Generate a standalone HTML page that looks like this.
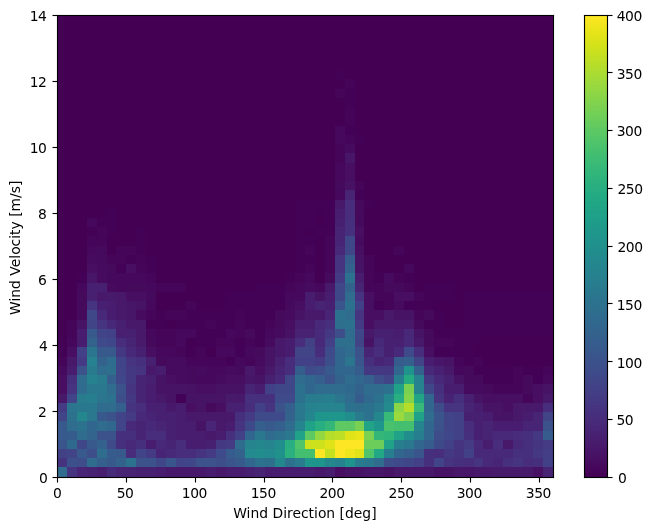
<!DOCTYPE html>
<html><head><meta charset="utf-8"><title>Wind Direction vs Wind Velocity</title>
<style>html,body{margin:0;padding:0;background:#fff}svg{display:block}text{font-family:"DejaVu Sans","Liberation Sans",sans-serif;font-size:13.889px;fill:#000}.t{filter:grayscale(1)}.k{letter-spacing:-0.45px}</style></head>
<body><svg width="653" height="530" viewBox="0 0 653 530">
<rect width="653" height="530" fill="#fff"/>
<g shape-rendering="crispEdges">
<rect x="57" y="467" width="10" height="10" fill="#2f6c8e"/>
<rect x="67" y="467" width="10" height="10" fill="#463480"/>
<rect x="77" y="467" width="10" height="10" fill="#482576"/>
<rect x="87" y="467" width="10" height="10" fill="#482374"/>
<rect x="97" y="467" width="10" height="10" fill="#481f70"/>
<rect x="107" y="467" width="9" height="10" fill="#472a7a"/>
<rect x="116" y="467" width="10" height="10" fill="#482475"/>
<rect x="126" y="467" width="10" height="10" fill="#482374"/>
<rect x="136" y="467" width="20" height="10" fill="#482071"/>
<rect x="156" y="467" width="10" height="10" fill="#481c6e"/>
<rect x="166" y="467" width="40" height="10" fill="#48186a"/>
<rect x="206" y="467" width="10" height="10" fill="#481c6e"/>
<rect x="216" y="467" width="10" height="10" fill="#48186a"/>
<rect x="226" y="467" width="19" height="10" fill="#481c6e"/>
<rect x="245" y="467" width="10" height="10" fill="#482071"/>
<rect x="255" y="467" width="10" height="10" fill="#482475"/>
<rect x="265" y="467" width="50" height="10" fill="#481c6e"/>
<rect x="315" y="467" width="10" height="10" fill="#48186a"/>
<rect x="325" y="467" width="10" height="10" fill="#481c6e"/>
<rect x="335" y="467" width="10" height="10" fill="#470e61"/>
<rect x="345" y="467" width="19" height="10" fill="#471365"/>
<rect x="364" y="467" width="20" height="10" fill="#481668"/>
<rect x="384" y="467" width="10" height="10" fill="#471365"/>
<rect x="394" y="467" width="40" height="10" fill="#48186a"/>
<rect x="434" y="467" width="20" height="10" fill="#471365"/>
<rect x="454" y="467" width="10" height="10" fill="#481769"/>
<rect x="464" y="467" width="10" height="10" fill="#481668"/>
<rect x="474" y="467" width="19" height="10" fill="#48186a"/>
<rect x="493" y="467" width="40" height="10" fill="#481a6c"/>
<rect x="533" y="467" width="10" height="10" fill="#471164"/>
<rect x="543" y="467" width="10" height="10" fill="#482475"/>
<rect x="57" y="458" width="10" height="9" fill="#46337f"/>
<rect x="67" y="458" width="10" height="9" fill="#3c508b"/>
<rect x="77" y="458" width="10" height="9" fill="#3d4e8a"/>
<rect x="87" y="458" width="10" height="9" fill="#2f6c8e"/>
<rect x="97" y="458" width="10" height="9" fill="#355f8d"/>
<rect x="107" y="458" width="9" height="9" fill="#38598c"/>
<rect x="116" y="458" width="10" height="9" fill="#33638d"/>
<rect x="126" y="458" width="10" height="9" fill="#2c728e"/>
<rect x="136" y="458" width="20" height="9" fill="#3b528b"/>
<rect x="156" y="458" width="10" height="9" fill="#3f4788"/>
<rect x="166" y="458" width="10" height="9" fill="#39558c"/>
<rect x="176" y="458" width="10" height="9" fill="#414487"/>
<rect x="186" y="458" width="10" height="9" fill="#3f4788"/>
<rect x="196" y="458" width="20" height="9" fill="#3b528b"/>
<rect x="216" y="458" width="10" height="9" fill="#3d4e8a"/>
<rect x="226" y="458" width="9" height="9" fill="#39558c"/>
<rect x="235" y="458" width="10" height="9" fill="#38598c"/>
<rect x="245" y="458" width="10" height="9" fill="#31668e"/>
<rect x="255" y="458" width="10" height="9" fill="#2c728e"/>
<rect x="265" y="458" width="10" height="9" fill="#2e6f8e"/>
<rect x="275" y="458" width="10" height="9" fill="#24878e"/>
<rect x="285" y="458" width="10" height="9" fill="#2c728e"/>
<rect x="295" y="458" width="10" height="9" fill="#297b8e"/>
<rect x="305" y="458" width="20" height="9" fill="#1f968b"/>
<rect x="325" y="458" width="10" height="9" fill="#24878e"/>
<rect x="335" y="458" width="10" height="9" fill="#26828e"/>
<rect x="345" y="458" width="10" height="9" fill="#20938c"/>
<rect x="355" y="458" width="9" height="9" fill="#297b8e"/>
<rect x="364" y="458" width="10" height="9" fill="#2a788e"/>
<rect x="374" y="458" width="10" height="9" fill="#2f6c8e"/>
<rect x="384" y="458" width="10" height="9" fill="#3d4e8a"/>
<rect x="394" y="458" width="10" height="9" fill="#3e4a89"/>
<rect x="404" y="458" width="10" height="9" fill="#3f4788"/>
<rect x="414" y="458" width="10" height="9" fill="#424086"/>
<rect x="424" y="458" width="10" height="9" fill="#46307e"/>
<rect x="434" y="458" width="10" height="9" fill="#414487"/>
<rect x="444" y="458" width="10" height="9" fill="#463480"/>
<rect x="454" y="458" width="10" height="9" fill="#46307e"/>
<rect x="464" y="458" width="10" height="9" fill="#472d7b"/>
<rect x="474" y="458" width="9" height="9" fill="#463480"/>
<rect x="483" y="458" width="10" height="9" fill="#482878"/>
<rect x="493" y="458" width="10" height="9" fill="#482475"/>
<rect x="503" y="458" width="10" height="9" fill="#46307e"/>
<rect x="513" y="458" width="10" height="9" fill="#463480"/>
<rect x="523" y="458" width="10" height="9" fill="#472d7b"/>
<rect x="533" y="458" width="10" height="9" fill="#46307e"/>
<rect x="543" y="458" width="10" height="9" fill="#424086"/>
<rect x="57" y="449" width="10" height="9" fill="#424186"/>
<rect x="67" y="449" width="10" height="9" fill="#414487"/>
<rect x="77" y="449" width="10" height="9" fill="#38598c"/>
<rect x="87" y="449" width="10" height="9" fill="#3d4e8a"/>
<rect x="97" y="449" width="10" height="9" fill="#2e6d8e"/>
<rect x="107" y="449" width="9" height="9" fill="#365c8d"/>
<rect x="116" y="449" width="10" height="9" fill="#38598c"/>
<rect x="126" y="449" width="10" height="9" fill="#472d7b"/>
<rect x="136" y="449" width="10" height="9" fill="#414487"/>
<rect x="146" y="449" width="10" height="9" fill="#443b84"/>
<rect x="156" y="449" width="10" height="9" fill="#482475"/>
<rect x="166" y="449" width="10" height="9" fill="#482878"/>
<rect x="176" y="449" width="20" height="9" fill="#472d7b"/>
<rect x="196" y="449" width="10" height="9" fill="#463480"/>
<rect x="206" y="449" width="10" height="9" fill="#443b84"/>
<rect x="216" y="449" width="10" height="9" fill="#3e4a89"/>
<rect x="226" y="449" width="9" height="9" fill="#365c8d"/>
<rect x="235" y="449" width="10" height="9" fill="#33638d"/>
<rect x="245" y="449" width="10" height="9" fill="#238a8d"/>
<rect x="255" y="449" width="10" height="9" fill="#228d8d"/>
<rect x="265" y="449" width="10" height="9" fill="#238a8d"/>
<rect x="275" y="449" width="10" height="9" fill="#21918c"/>
<rect x="285" y="449" width="10" height="9" fill="#2cb17e"/>
<rect x="295" y="449" width="20" height="9" fill="#44bf70"/>
<rect x="315" y="449" width="10" height="9" fill="#fde725"/>
<rect x="325" y="449" width="10" height="9" fill="#c5e021"/>
<rect x="335" y="449" width="10" height="9" fill="#fde725"/>
<rect x="345" y="449" width="10" height="9" fill="#efe51c"/>
<rect x="355" y="449" width="9" height="9" fill="#dfe318"/>
<rect x="364" y="449" width="10" height="9" fill="#50c46a"/>
<rect x="374" y="449" width="10" height="9" fill="#22a884"/>
<rect x="384" y="449" width="10" height="9" fill="#277e8e"/>
<rect x="394" y="449" width="10" height="9" fill="#31668e"/>
<rect x="404" y="449" width="10" height="9" fill="#355f8d"/>
<rect x="414" y="449" width="10" height="9" fill="#39558c"/>
<rect x="424" y="449" width="10" height="9" fill="#46307e"/>
<rect x="434" y="449" width="10" height="9" fill="#472d7b"/>
<rect x="444" y="449" width="10" height="9" fill="#453882"/>
<rect x="454" y="449" width="10" height="9" fill="#46337f"/>
<rect x="464" y="449" width="10" height="9" fill="#424086"/>
<rect x="474" y="449" width="39" height="9" fill="#482878"/>
<rect x="513" y="449" width="20" height="9" fill="#46307e"/>
<rect x="533" y="449" width="10" height="9" fill="#453882"/>
<rect x="543" y="449" width="10" height="9" fill="#433e85"/>
<rect x="57" y="440" width="10" height="9" fill="#39558c"/>
<rect x="67" y="440" width="10" height="9" fill="#30698e"/>
<rect x="77" y="440" width="10" height="9" fill="#3f4788"/>
<rect x="87" y="440" width="10" height="9" fill="#38598c"/>
<rect x="97" y="440" width="10" height="9" fill="#34618d"/>
<rect x="107" y="440" width="9" height="9" fill="#3e4a89"/>
<rect x="116" y="440" width="10" height="9" fill="#46307e"/>
<rect x="126" y="440" width="10" height="9" fill="#482878"/>
<rect x="136" y="440" width="10" height="9" fill="#46307e"/>
<rect x="146" y="440" width="10" height="9" fill="#481c6e"/>
<rect x="156" y="440" width="10" height="9" fill="#482878"/>
<rect x="166" y="440" width="10" height="9" fill="#482475"/>
<rect x="176" y="440" width="10" height="9" fill="#472d7b"/>
<rect x="186" y="440" width="20" height="9" fill="#481c6e"/>
<rect x="206" y="440" width="10" height="9" fill="#482071"/>
<rect x="216" y="440" width="10" height="9" fill="#453882"/>
<rect x="226" y="440" width="9" height="9" fill="#443b84"/>
<rect x="235" y="440" width="10" height="9" fill="#2f6c8e"/>
<rect x="245" y="440" width="10" height="9" fill="#25848e"/>
<rect x="255" y="440" width="10" height="9" fill="#24878e"/>
<rect x="265" y="440" width="10" height="9" fill="#25848e"/>
<rect x="275" y="440" width="10" height="9" fill="#228d8d"/>
<rect x="285" y="440" width="10" height="9" fill="#28ae80"/>
<rect x="295" y="440" width="10" height="9" fill="#50c46a"/>
<rect x="305" y="440" width="20" height="9" fill="#cde11d"/>
<rect x="325" y="440" width="10" height="9" fill="#dfe318"/>
<rect x="335" y="440" width="29" height="9" fill="#fde725"/>
<rect x="364" y="440" width="20" height="9" fill="#6ccd5a"/>
<rect x="384" y="440" width="10" height="9" fill="#1fa287"/>
<rect x="394" y="440" width="10" height="9" fill="#277e8e"/>
<rect x="404" y="440" width="10" height="9" fill="#2a788e"/>
<rect x="414" y="440" width="10" height="9" fill="#31668e"/>
<rect x="424" y="440" width="10" height="9" fill="#365c8d"/>
<rect x="434" y="440" width="10" height="9" fill="#3e4989"/>
<rect x="444" y="440" width="10" height="9" fill="#424086"/>
<rect x="454" y="440" width="10" height="9" fill="#463480"/>
<rect x="464" y="440" width="10" height="9" fill="#443b84"/>
<rect x="474" y="440" width="9" height="9" fill="#482878"/>
<rect x="483" y="440" width="10" height="9" fill="#481c6e"/>
<rect x="493" y="440" width="10" height="9" fill="#472d7b"/>
<rect x="503" y="440" width="10" height="9" fill="#48186a"/>
<rect x="513" y="440" width="10" height="9" fill="#482878"/>
<rect x="523" y="440" width="10" height="9" fill="#46307e"/>
<rect x="533" y="440" width="10" height="9" fill="#453581"/>
<rect x="543" y="440" width="10" height="9" fill="#443b84"/>
<rect x="57" y="431" width="10" height="9" fill="#38598c"/>
<rect x="67" y="431" width="10" height="9" fill="#365c8d"/>
<rect x="77" y="431" width="10" height="9" fill="#2f6c8e"/>
<rect x="87" y="431" width="10" height="9" fill="#32648e"/>
<rect x="97" y="431" width="19" height="9" fill="#3b528b"/>
<rect x="116" y="431" width="20" height="9" fill="#46307e"/>
<rect x="136" y="431" width="10" height="9" fill="#482475"/>
<rect x="146" y="431" width="20" height="9" fill="#472d7b"/>
<rect x="166" y="431" width="10" height="9" fill="#482071"/>
<rect x="176" y="431" width="20" height="9" fill="#481c6e"/>
<rect x="196" y="431" width="10" height="9" fill="#481d6f"/>
<rect x="206" y="431" width="10" height="9" fill="#48186a"/>
<rect x="216" y="431" width="10" height="9" fill="#481c6e"/>
<rect x="226" y="431" width="9" height="9" fill="#46307e"/>
<rect x="235" y="431" width="10" height="9" fill="#424086"/>
<rect x="245" y="431" width="10" height="9" fill="#31668e"/>
<rect x="255" y="431" width="10" height="9" fill="#2a788e"/>
<rect x="265" y="431" width="10" height="9" fill="#2f6c8e"/>
<rect x="275" y="431" width="10" height="9" fill="#2c728e"/>
<rect x="285" y="431" width="10" height="9" fill="#2a788e"/>
<rect x="295" y="431" width="10" height="9" fill="#1fa287"/>
<rect x="305" y="431" width="10" height="9" fill="#5ec962"/>
<rect x="315" y="431" width="10" height="9" fill="#93d741"/>
<rect x="325" y="431" width="10" height="9" fill="#b5de2b"/>
<rect x="335" y="431" width="10" height="9" fill="#bddf26"/>
<rect x="345" y="431" width="10" height="9" fill="#dfe318"/>
<rect x="355" y="431" width="9" height="9" fill="#e7e419"/>
<rect x="364" y="431" width="10" height="9" fill="#7ad151"/>
<rect x="374" y="431" width="10" height="9" fill="#34b679"/>
<rect x="384" y="431" width="10" height="9" fill="#2fb47c"/>
<rect x="394" y="431" width="10" height="9" fill="#1fa287"/>
<rect x="404" y="431" width="10" height="9" fill="#228d8d"/>
<rect x="414" y="431" width="10" height="9" fill="#277e8e"/>
<rect x="424" y="431" width="10" height="9" fill="#31668e"/>
<rect x="434" y="431" width="10" height="9" fill="#3e4c8a"/>
<rect x="444" y="431" width="10" height="9" fill="#3f4788"/>
<rect x="454" y="431" width="10" height="9" fill="#424086"/>
<rect x="464" y="431" width="10" height="9" fill="#46307e"/>
<rect x="474" y="431" width="9" height="9" fill="#482071"/>
<rect x="483" y="431" width="10" height="9" fill="#482475"/>
<rect x="493" y="431" width="20" height="9" fill="#482878"/>
<rect x="513" y="431" width="10" height="9" fill="#472d7b"/>
<rect x="523" y="431" width="10" height="9" fill="#46307e"/>
<rect x="533" y="431" width="10" height="9" fill="#453882"/>
<rect x="543" y="431" width="10" height="9" fill="#365c8d"/>
<rect x="57" y="421" width="10" height="10" fill="#38598c"/>
<rect x="67" y="421" width="10" height="10" fill="#2f6c8e"/>
<rect x="77" y="421" width="10" height="10" fill="#2c728e"/>
<rect x="87" y="421" width="10" height="10" fill="#31668e"/>
<rect x="97" y="421" width="10" height="10" fill="#2f6c8e"/>
<rect x="107" y="421" width="9" height="10" fill="#31668e"/>
<rect x="116" y="421" width="10" height="10" fill="#414487"/>
<rect x="126" y="421" width="10" height="10" fill="#482878"/>
<rect x="136" y="421" width="10" height="10" fill="#482475"/>
<rect x="146" y="421" width="10" height="10" fill="#482878"/>
<rect x="156" y="421" width="10" height="10" fill="#482475"/>
<rect x="166" y="421" width="10" height="10" fill="#482071"/>
<rect x="176" y="421" width="20" height="10" fill="#481c6e"/>
<rect x="196" y="421" width="10" height="10" fill="#471365"/>
<rect x="206" y="421" width="10" height="10" fill="#482576"/>
<rect x="216" y="421" width="10" height="10" fill="#48186a"/>
<rect x="226" y="421" width="9" height="10" fill="#481d6f"/>
<rect x="235" y="421" width="10" height="10" fill="#463480"/>
<rect x="245" y="421" width="10" height="10" fill="#3e4989"/>
<rect x="255" y="421" width="10" height="10" fill="#355f8d"/>
<rect x="265" y="421" width="10" height="10" fill="#38598c"/>
<rect x="275" y="421" width="10" height="10" fill="#355f8d"/>
<rect x="285" y="421" width="10" height="10" fill="#2f6c8e"/>
<rect x="295" y="421" width="10" height="10" fill="#25848e"/>
<rect x="305" y="421" width="10" height="10" fill="#1fa287"/>
<rect x="315" y="421" width="10" height="10" fill="#28ae80"/>
<rect x="325" y="421" width="10" height="10" fill="#34b679"/>
<rect x="335" y="421" width="20" height="10" fill="#5ec962"/>
<rect x="355" y="421" width="9" height="10" fill="#7ad151"/>
<rect x="364" y="421" width="10" height="10" fill="#20a386"/>
<rect x="374" y="421" width="10" height="10" fill="#1f968b"/>
<rect x="384" y="421" width="10" height="10" fill="#4ac16d"/>
<rect x="394" y="421" width="20" height="10" fill="#44bf70"/>
<rect x="414" y="421" width="10" height="10" fill="#25848e"/>
<rect x="424" y="421" width="10" height="10" fill="#31668e"/>
<rect x="434" y="421" width="10" height="10" fill="#3b528b"/>
<rect x="444" y="421" width="10" height="10" fill="#414487"/>
<rect x="454" y="421" width="10" height="10" fill="#424086"/>
<rect x="464" y="421" width="10" height="10" fill="#472d7b"/>
<rect x="474" y="421" width="9" height="10" fill="#482071"/>
<rect x="483" y="421" width="10" height="10" fill="#482475"/>
<rect x="493" y="421" width="30" height="10" fill="#481c6e"/>
<rect x="523" y="421" width="20" height="10" fill="#482475"/>
<rect x="543" y="421" width="10" height="10" fill="#3b528b"/>
<rect x="57" y="412" width="10" height="9" fill="#414487"/>
<rect x="67" y="412" width="10" height="9" fill="#2c728e"/>
<rect x="77" y="412" width="10" height="9" fill="#24878e"/>
<rect x="87" y="412" width="10" height="9" fill="#2a788e"/>
<rect x="97" y="412" width="10" height="9" fill="#38598c"/>
<rect x="107" y="412" width="9" height="9" fill="#3b528b"/>
<rect x="116" y="412" width="10" height="9" fill="#414487"/>
<rect x="126" y="412" width="10" height="9" fill="#443b84"/>
<rect x="136" y="412" width="10" height="9" fill="#482878"/>
<rect x="146" y="412" width="10" height="9" fill="#482475"/>
<rect x="156" y="412" width="20" height="9" fill="#482071"/>
<rect x="176" y="412" width="10" height="9" fill="#481c6e"/>
<rect x="186" y="412" width="49" height="9" fill="#48186a"/>
<rect x="235" y="412" width="10" height="9" fill="#46307e"/>
<rect x="245" y="412" width="10" height="9" fill="#443b84"/>
<rect x="255" y="412" width="30" height="9" fill="#3e4a89"/>
<rect x="285" y="412" width="10" height="9" fill="#33638d"/>
<rect x="295" y="412" width="10" height="9" fill="#2a788e"/>
<rect x="305" y="412" width="10" height="9" fill="#24878e"/>
<rect x="315" y="412" width="30" height="9" fill="#1f968b"/>
<rect x="345" y="412" width="10" height="9" fill="#228d8d"/>
<rect x="355" y="412" width="9" height="9" fill="#297b8e"/>
<rect x="364" y="412" width="10" height="9" fill="#2c728e"/>
<rect x="374" y="412" width="10" height="9" fill="#24878e"/>
<rect x="384" y="412" width="10" height="9" fill="#38b977"/>
<rect x="394" y="412" width="10" height="9" fill="#9bd93c"/>
<rect x="404" y="412" width="10" height="9" fill="#7ad151"/>
<rect x="414" y="412" width="10" height="9" fill="#1fa287"/>
<rect x="424" y="412" width="10" height="9" fill="#2f6c8e"/>
<rect x="434" y="412" width="10" height="9" fill="#39558c"/>
<rect x="444" y="412" width="10" height="9" fill="#414487"/>
<rect x="454" y="412" width="10" height="9" fill="#424086"/>
<rect x="464" y="412" width="19" height="9" fill="#482071"/>
<rect x="483" y="412" width="10" height="9" fill="#481c6e"/>
<rect x="493" y="412" width="20" height="9" fill="#471365"/>
<rect x="513" y="412" width="10" height="9" fill="#48186a"/>
<rect x="523" y="412" width="10" height="9" fill="#481c6e"/>
<rect x="533" y="412" width="10" height="9" fill="#482475"/>
<rect x="543" y="412" width="10" height="9" fill="#414487"/>
<rect x="57" y="403" width="10" height="9" fill="#443b84"/>
<rect x="67" y="403" width="10" height="9" fill="#2b758e"/>
<rect x="77" y="403" width="20" height="9" fill="#2a788e"/>
<rect x="97" y="403" width="19" height="9" fill="#2f6c8e"/>
<rect x="116" y="403" width="10" height="9" fill="#355f8d"/>
<rect x="126" y="403" width="10" height="9" fill="#463480"/>
<rect x="136" y="403" width="10" height="9" fill="#472d7b"/>
<rect x="146" y="403" width="20" height="9" fill="#482071"/>
<rect x="166" y="403" width="10" height="9" fill="#48186a"/>
<rect x="176" y="403" width="10" height="9" fill="#481c6e"/>
<rect x="186" y="403" width="10" height="9" fill="#470e61"/>
<rect x="196" y="403" width="10" height="9" fill="#471365"/>
<rect x="206" y="403" width="10" height="9" fill="#460a5d"/>
<rect x="216" y="403" width="10" height="9" fill="#470e61"/>
<rect x="226" y="403" width="19" height="9" fill="#482071"/>
<rect x="245" y="403" width="10" height="9" fill="#472d7b"/>
<rect x="255" y="403" width="10" height="9" fill="#424086"/>
<rect x="265" y="403" width="10" height="9" fill="#463480"/>
<rect x="275" y="403" width="10" height="9" fill="#3b528b"/>
<rect x="285" y="403" width="10" height="9" fill="#355f8d"/>
<rect x="295" y="403" width="10" height="9" fill="#2a788e"/>
<rect x="305" y="403" width="10" height="9" fill="#26828e"/>
<rect x="315" y="403" width="30" height="9" fill="#25848e"/>
<rect x="345" y="403" width="10" height="9" fill="#2c728e"/>
<rect x="355" y="403" width="9" height="9" fill="#2e6f8e"/>
<rect x="364" y="403" width="10" height="9" fill="#2c728e"/>
<rect x="374" y="403" width="10" height="9" fill="#2a788e"/>
<rect x="384" y="403" width="10" height="9" fill="#238a8d"/>
<rect x="394" y="403" width="10" height="9" fill="#8bd646"/>
<rect x="404" y="403" width="10" height="9" fill="#b5de2b"/>
<rect x="414" y="403" width="10" height="9" fill="#38b977"/>
<rect x="424" y="403" width="10" height="9" fill="#31668e"/>
<rect x="434" y="403" width="10" height="9" fill="#3e4c8a"/>
<rect x="444" y="403" width="20" height="9" fill="#463480"/>
<rect x="464" y="403" width="10" height="9" fill="#482475"/>
<rect x="474" y="403" width="9" height="9" fill="#481c6e"/>
<rect x="483" y="403" width="20" height="9" fill="#471365"/>
<rect x="503" y="403" width="10" height="9" fill="#470e61"/>
<rect x="513" y="403" width="30" height="9" fill="#48186a"/>
<rect x="543" y="403" width="10" height="9" fill="#472d7b"/>
<rect x="57" y="394" width="10" height="9" fill="#48186a"/>
<rect x="67" y="394" width="10" height="9" fill="#414487"/>
<rect x="77" y="394" width="10" height="9" fill="#297b8e"/>
<rect x="87" y="394" width="10" height="9" fill="#277e8e"/>
<rect x="97" y="394" width="10" height="9" fill="#2b758e"/>
<rect x="107" y="394" width="9" height="9" fill="#2c728e"/>
<rect x="116" y="394" width="10" height="9" fill="#3d4e8a"/>
<rect x="126" y="394" width="10" height="9" fill="#453882"/>
<rect x="136" y="394" width="10" height="9" fill="#482475"/>
<rect x="146" y="394" width="10" height="9" fill="#481c6e"/>
<rect x="156" y="394" width="10" height="9" fill="#48186a"/>
<rect x="166" y="394" width="10" height="9" fill="#471365"/>
<rect x="176" y="394" width="10" height="9" fill="#440256"/>
<rect x="186" y="394" width="40" height="9" fill="#471365"/>
<rect x="226" y="394" width="9" height="9" fill="#481a6c"/>
<rect x="235" y="394" width="10" height="9" fill="#48186a"/>
<rect x="245" y="394" width="30" height="9" fill="#46307e"/>
<rect x="275" y="394" width="20" height="9" fill="#3e4a89"/>
<rect x="295" y="394" width="10" height="9" fill="#2c728e"/>
<rect x="305" y="394" width="20" height="9" fill="#297b8e"/>
<rect x="325" y="394" width="10" height="9" fill="#277e8e"/>
<rect x="335" y="394" width="10" height="9" fill="#2b758e"/>
<rect x="345" y="394" width="10" height="9" fill="#2f6c8e"/>
<rect x="355" y="394" width="9" height="9" fill="#365c8d"/>
<rect x="364" y="394" width="10" height="9" fill="#30698e"/>
<rect x="374" y="394" width="10" height="9" fill="#2c728e"/>
<rect x="384" y="394" width="10" height="9" fill="#24878e"/>
<rect x="394" y="394" width="10" height="9" fill="#28ae80"/>
<rect x="404" y="394" width="10" height="9" fill="#84d44b"/>
<rect x="414" y="394" width="10" height="9" fill="#21a585"/>
<rect x="424" y="394" width="10" height="9" fill="#31668e"/>
<rect x="434" y="394" width="10" height="9" fill="#463480"/>
<rect x="444" y="394" width="10" height="9" fill="#482374"/>
<rect x="454" y="394" width="10" height="9" fill="#46307e"/>
<rect x="464" y="394" width="10" height="9" fill="#482071"/>
<rect x="474" y="394" width="9" height="9" fill="#471365"/>
<rect x="483" y="394" width="40" height="9" fill="#470e61"/>
<rect x="523" y="394" width="10" height="9" fill="#450559"/>
<rect x="533" y="394" width="10" height="9" fill="#470e61"/>
<rect x="543" y="394" width="10" height="9" fill="#48186a"/>
<rect x="57" y="384" width="10" height="10" fill="#470e61"/>
<rect x="67" y="384" width="10" height="10" fill="#463480"/>
<rect x="77" y="384" width="10" height="10" fill="#2f6c8e"/>
<rect x="87" y="384" width="20" height="10" fill="#2a788e"/>
<rect x="107" y="384" width="9" height="10" fill="#2f6c8e"/>
<rect x="116" y="384" width="10" height="10" fill="#3b528b"/>
<rect x="126" y="384" width="10" height="10" fill="#463480"/>
<rect x="136" y="384" width="10" height="10" fill="#482475"/>
<rect x="146" y="384" width="10" height="10" fill="#481c6e"/>
<rect x="156" y="384" width="30" height="10" fill="#471365"/>
<rect x="186" y="384" width="10" height="10" fill="#471164"/>
<rect x="196" y="384" width="20" height="10" fill="#470e61"/>
<rect x="216" y="384" width="29" height="10" fill="#471164"/>
<rect x="245" y="384" width="10" height="10" fill="#482475"/>
<rect x="255" y="384" width="10" height="10" fill="#481c6e"/>
<rect x="265" y="384" width="10" height="10" fill="#424086"/>
<rect x="275" y="384" width="20" height="10" fill="#3f4788"/>
<rect x="295" y="384" width="10" height="10" fill="#2c728e"/>
<rect x="305" y="384" width="10" height="10" fill="#31668e"/>
<rect x="315" y="384" width="30" height="10" fill="#2f6c8e"/>
<rect x="345" y="384" width="10" height="10" fill="#30698e"/>
<rect x="355" y="384" width="9" height="10" fill="#33638d"/>
<rect x="364" y="384" width="20" height="10" fill="#2f6c8e"/>
<rect x="384" y="384" width="10" height="10" fill="#2c728e"/>
<rect x="394" y="384" width="10" height="10" fill="#1fa287"/>
<rect x="404" y="384" width="10" height="10" fill="#7ad151"/>
<rect x="414" y="384" width="10" height="10" fill="#25848e"/>
<rect x="424" y="384" width="10" height="10" fill="#3f4788"/>
<rect x="434" y="384" width="10" height="10" fill="#46307e"/>
<rect x="444" y="384" width="20" height="10" fill="#481c6e"/>
<rect x="464" y="384" width="19" height="10" fill="#460b5e"/>
<rect x="483" y="384" width="10" height="10" fill="#460a5d"/>
<rect x="493" y="384" width="30" height="10" fill="#450559"/>
<rect x="523" y="384" width="10" height="10" fill="#460a5d"/>
<rect x="533" y="384" width="10" height="10" fill="#470e61"/>
<rect x="543" y="384" width="10" height="10" fill="#471365"/>
<rect x="57" y="375" width="10" height="9" fill="#470e61"/>
<rect x="67" y="375" width="10" height="9" fill="#46307e"/>
<rect x="77" y="375" width="10" height="9" fill="#2f6c8e"/>
<rect x="87" y="375" width="10" height="9" fill="#26828e"/>
<rect x="97" y="375" width="10" height="9" fill="#297b8e"/>
<rect x="107" y="375" width="9" height="9" fill="#355f8d"/>
<rect x="116" y="375" width="10" height="9" fill="#3f4788"/>
<rect x="126" y="375" width="10" height="9" fill="#453882"/>
<rect x="136" y="375" width="10" height="9" fill="#482475"/>
<rect x="146" y="375" width="10" height="9" fill="#482071"/>
<rect x="156" y="375" width="10" height="9" fill="#471365"/>
<rect x="166" y="375" width="10" height="9" fill="#470e61"/>
<rect x="176" y="375" width="10" height="9" fill="#460b5e"/>
<rect x="186" y="375" width="10" height="9" fill="#460a5d"/>
<rect x="196" y="375" width="20" height="9" fill="#46085c"/>
<rect x="216" y="375" width="10" height="9" fill="#460b5e"/>
<rect x="226" y="375" width="19" height="9" fill="#470e61"/>
<rect x="245" y="375" width="10" height="9" fill="#481668"/>
<rect x="255" y="375" width="10" height="9" fill="#471365"/>
<rect x="265" y="375" width="10" height="9" fill="#482071"/>
<rect x="275" y="375" width="10" height="9" fill="#482878"/>
<rect x="285" y="375" width="10" height="9" fill="#3f4788"/>
<rect x="295" y="375" width="10" height="9" fill="#2f6c8e"/>
<rect x="305" y="375" width="10" height="9" fill="#31668e"/>
<rect x="315" y="375" width="10" height="9" fill="#355f8d"/>
<rect x="325" y="375" width="10" height="9" fill="#3b528b"/>
<rect x="335" y="375" width="10" height="9" fill="#33638d"/>
<rect x="345" y="375" width="10" height="9" fill="#2f6c8e"/>
<rect x="355" y="375" width="9" height="9" fill="#31668e"/>
<rect x="364" y="375" width="10" height="9" fill="#355f8d"/>
<rect x="374" y="375" width="10" height="9" fill="#3d4e8a"/>
<rect x="384" y="375" width="10" height="9" fill="#414487"/>
<rect x="394" y="375" width="10" height="9" fill="#277e8e"/>
<rect x="404" y="375" width="10" height="9" fill="#25ab82"/>
<rect x="414" y="375" width="10" height="9" fill="#26828e"/>
<rect x="424" y="375" width="10" height="9" fill="#453882"/>
<rect x="434" y="375" width="10" height="9" fill="#482878"/>
<rect x="444" y="375" width="10" height="9" fill="#482071"/>
<rect x="454" y="375" width="10" height="9" fill="#471164"/>
<rect x="464" y="375" width="19" height="9" fill="#460a5d"/>
<rect x="483" y="375" width="30" height="9" fill="#440256"/>
<rect x="513" y="375" width="10" height="9" fill="#450559"/>
<rect x="523" y="375" width="10" height="9" fill="#460a5d"/>
<rect x="533" y="375" width="10" height="9" fill="#440256"/>
<rect x="543" y="375" width="10" height="9" fill="#46085c"/>
<rect x="57" y="366" width="10" height="9" fill="#460b5e"/>
<rect x="67" y="366" width="10" height="9" fill="#481c6e"/>
<rect x="77" y="366" width="10" height="9" fill="#3b528b"/>
<rect x="87" y="366" width="10" height="9" fill="#297b8e"/>
<rect x="97" y="366" width="10" height="9" fill="#2f6c8e"/>
<rect x="107" y="366" width="9" height="9" fill="#2e6f8e"/>
<rect x="116" y="366" width="10" height="9" fill="#414487"/>
<rect x="126" y="366" width="10" height="9" fill="#453882"/>
<rect x="136" y="366" width="10" height="9" fill="#463480"/>
<rect x="146" y="366" width="10" height="9" fill="#48186a"/>
<rect x="156" y="366" width="10" height="9" fill="#481c6e"/>
<rect x="166" y="366" width="20" height="9" fill="#460b5e"/>
<rect x="186" y="366" width="10" height="9" fill="#460a5d"/>
<rect x="196" y="366" width="10" height="9" fill="#460b5e"/>
<rect x="206" y="366" width="20" height="9" fill="#46085c"/>
<rect x="226" y="366" width="9" height="9" fill="#460b5e"/>
<rect x="235" y="366" width="10" height="9" fill="#460a5d"/>
<rect x="245" y="366" width="10" height="9" fill="#48186a"/>
<rect x="255" y="366" width="10" height="9" fill="#470e61"/>
<rect x="265" y="366" width="10" height="9" fill="#48186a"/>
<rect x="275" y="366" width="10" height="9" fill="#482475"/>
<rect x="285" y="366" width="10" height="9" fill="#472d7b"/>
<rect x="295" y="366" width="10" height="9" fill="#355e8d"/>
<rect x="305" y="366" width="10" height="9" fill="#3e4a89"/>
<rect x="315" y="366" width="10" height="9" fill="#3d4e8a"/>
<rect x="325" y="366" width="10" height="9" fill="#38598c"/>
<rect x="335" y="366" width="20" height="9" fill="#31668e"/>
<rect x="355" y="366" width="9" height="9" fill="#365c8d"/>
<rect x="364" y="366" width="30" height="9" fill="#453882"/>
<rect x="394" y="366" width="10" height="9" fill="#31668e"/>
<rect x="404" y="366" width="10" height="9" fill="#20938c"/>
<rect x="414" y="366" width="10" height="9" fill="#33638d"/>
<rect x="424" y="366" width="10" height="9" fill="#482878"/>
<rect x="434" y="366" width="10" height="9" fill="#482071"/>
<rect x="444" y="366" width="10" height="9" fill="#48186a"/>
<rect x="454" y="366" width="10" height="9" fill="#46085c"/>
<rect x="464" y="366" width="10" height="9" fill="#460a5d"/>
<rect x="474" y="366" width="39" height="9" fill="#440256"/>
<rect x="513" y="366" width="10" height="9" fill="#450559"/>
<rect x="523" y="366" width="20" height="9" fill="#440256"/>
<rect x="543" y="366" width="10" height="9" fill="#450559"/>
<rect x="57" y="357" width="10" height="9" fill="#450559"/>
<rect x="67" y="357" width="10" height="9" fill="#48186a"/>
<rect x="77" y="357" width="10" height="9" fill="#443b84"/>
<rect x="87" y="357" width="10" height="9" fill="#26828e"/>
<rect x="97" y="357" width="10" height="9" fill="#33638d"/>
<rect x="107" y="357" width="9" height="9" fill="#2f6c8e"/>
<rect x="116" y="357" width="10" height="9" fill="#404588"/>
<rect x="126" y="357" width="10" height="9" fill="#463480"/>
<rect x="136" y="357" width="10" height="9" fill="#46307e"/>
<rect x="146" y="357" width="10" height="9" fill="#482071"/>
<rect x="156" y="357" width="10" height="9" fill="#460a5d"/>
<rect x="166" y="357" width="20" height="9" fill="#460b5e"/>
<rect x="186" y="357" width="40" height="9" fill="#450559"/>
<rect x="226" y="357" width="9" height="9" fill="#440256"/>
<rect x="235" y="357" width="10" height="9" fill="#46085c"/>
<rect x="245" y="357" width="10" height="9" fill="#450559"/>
<rect x="255" y="357" width="10" height="9" fill="#460b5e"/>
<rect x="265" y="357" width="10" height="9" fill="#471365"/>
<rect x="275" y="357" width="10" height="9" fill="#482071"/>
<rect x="285" y="357" width="10" height="9" fill="#472d7b"/>
<rect x="295" y="357" width="20" height="9" fill="#424086"/>
<rect x="315" y="357" width="10" height="9" fill="#443b84"/>
<rect x="325" y="357" width="10" height="9" fill="#3d4e8a"/>
<rect x="335" y="357" width="10" height="9" fill="#31668e"/>
<rect x="345" y="357" width="10" height="9" fill="#2b758e"/>
<rect x="355" y="357" width="9" height="9" fill="#39558c"/>
<rect x="364" y="357" width="10" height="9" fill="#46307e"/>
<rect x="374" y="357" width="10" height="9" fill="#482475"/>
<rect x="384" y="357" width="10" height="9" fill="#482878"/>
<rect x="394" y="357" width="10" height="9" fill="#365c8d"/>
<rect x="404" y="357" width="10" height="9" fill="#355f8d"/>
<rect x="414" y="357" width="10" height="9" fill="#414487"/>
<rect x="424" y="357" width="10" height="9" fill="#481c6e"/>
<rect x="434" y="357" width="10" height="9" fill="#481668"/>
<rect x="444" y="357" width="10" height="9" fill="#471365"/>
<rect x="454" y="357" width="10" height="9" fill="#450559"/>
<rect x="464" y="357" width="10" height="9" fill="#440256"/>
<rect x="474" y="357" width="9" height="9" fill="#450559"/>
<rect x="483" y="357" width="70" height="9" fill="#440154"/>
<rect x="57" y="347" width="10" height="10" fill="#440256"/>
<rect x="67" y="347" width="10" height="10" fill="#470e61"/>
<rect x="77" y="347" width="10" height="10" fill="#424086"/>
<rect x="87" y="347" width="10" height="10" fill="#2b758e"/>
<rect x="97" y="347" width="19" height="10" fill="#38598c"/>
<rect x="116" y="347" width="10" height="10" fill="#453882"/>
<rect x="126" y="347" width="10" height="10" fill="#482878"/>
<rect x="136" y="347" width="10" height="10" fill="#482071"/>
<rect x="146" y="347" width="10" height="10" fill="#470e61"/>
<rect x="156" y="347" width="20" height="10" fill="#46085c"/>
<rect x="176" y="347" width="10" height="10" fill="#450559"/>
<rect x="186" y="347" width="10" height="10" fill="#440256"/>
<rect x="196" y="347" width="10" height="10" fill="#450559"/>
<rect x="206" y="347" width="10" height="10" fill="#440154"/>
<rect x="216" y="347" width="19" height="10" fill="#46085c"/>
<rect x="235" y="347" width="10" height="10" fill="#440256"/>
<rect x="245" y="347" width="10" height="10" fill="#46085c"/>
<rect x="255" y="347" width="10" height="10" fill="#460a5d"/>
<rect x="265" y="347" width="10" height="10" fill="#471365"/>
<rect x="275" y="347" width="10" height="10" fill="#48186a"/>
<rect x="285" y="347" width="10" height="10" fill="#481c6e"/>
<rect x="295" y="347" width="20" height="10" fill="#414487"/>
<rect x="315" y="347" width="10" height="10" fill="#472d7b"/>
<rect x="325" y="347" width="10" height="10" fill="#3e4a89"/>
<rect x="335" y="347" width="10" height="10" fill="#31668e"/>
<rect x="345" y="347" width="10" height="10" fill="#2f6c8e"/>
<rect x="355" y="347" width="9" height="10" fill="#3b528b"/>
<rect x="364" y="347" width="10" height="10" fill="#482475"/>
<rect x="374" y="347" width="10" height="10" fill="#472d7b"/>
<rect x="384" y="347" width="10" height="10" fill="#482071"/>
<rect x="394" y="347" width="10" height="10" fill="#482878"/>
<rect x="404" y="347" width="10" height="10" fill="#3e4a89"/>
<rect x="414" y="347" width="10" height="10" fill="#472d7b"/>
<rect x="424" y="347" width="10" height="10" fill="#470e61"/>
<rect x="434" y="347" width="40" height="10" fill="#440256"/>
<rect x="474" y="347" width="79" height="10" fill="#440154"/>
<rect x="57" y="338" width="10" height="9" fill="#440256"/>
<rect x="67" y="338" width="10" height="9" fill="#46085c"/>
<rect x="77" y="338" width="10" height="9" fill="#481c6e"/>
<rect x="87" y="338" width="10" height="9" fill="#33638d"/>
<rect x="97" y="338" width="10" height="9" fill="#3e4a89"/>
<rect x="107" y="338" width="9" height="9" fill="#3f4788"/>
<rect x="116" y="338" width="10" height="9" fill="#472d7b"/>
<rect x="126" y="338" width="10" height="9" fill="#482475"/>
<rect x="136" y="338" width="10" height="9" fill="#481a6c"/>
<rect x="146" y="338" width="10" height="9" fill="#460a5d"/>
<rect x="156" y="338" width="20" height="9" fill="#450559"/>
<rect x="176" y="338" width="10" height="9" fill="#46085c"/>
<rect x="186" y="338" width="10" height="9" fill="#440154"/>
<rect x="196" y="338" width="20" height="9" fill="#440256"/>
<rect x="216" y="338" width="19" height="9" fill="#450559"/>
<rect x="235" y="338" width="10" height="9" fill="#440256"/>
<rect x="245" y="338" width="10" height="9" fill="#450559"/>
<rect x="255" y="338" width="10" height="9" fill="#440256"/>
<rect x="265" y="338" width="10" height="9" fill="#460b5e"/>
<rect x="275" y="338" width="10" height="9" fill="#48186a"/>
<rect x="285" y="338" width="10" height="9" fill="#481c6e"/>
<rect x="295" y="338" width="10" height="9" fill="#472d7b"/>
<rect x="305" y="338" width="10" height="9" fill="#424186"/>
<rect x="315" y="338" width="10" height="9" fill="#482878"/>
<rect x="325" y="338" width="10" height="9" fill="#424086"/>
<rect x="335" y="338" width="20" height="9" fill="#2e6f8e"/>
<rect x="355" y="338" width="9" height="9" fill="#414487"/>
<rect x="364" y="338" width="10" height="9" fill="#471365"/>
<rect x="374" y="338" width="10" height="9" fill="#482878"/>
<rect x="384" y="338" width="20" height="9" fill="#482071"/>
<rect x="404" y="338" width="10" height="9" fill="#482878"/>
<rect x="414" y="338" width="10" height="9" fill="#48186a"/>
<rect x="424" y="338" width="10" height="9" fill="#460a5d"/>
<rect x="434" y="338" width="20" height="9" fill="#450559"/>
<rect x="454" y="338" width="20" height="9" fill="#440256"/>
<rect x="474" y="338" width="79" height="9" fill="#440154"/>
<rect x="57" y="329" width="10" height="9" fill="#440154"/>
<rect x="67" y="329" width="10" height="9" fill="#450559"/>
<rect x="77" y="329" width="10" height="9" fill="#481c6e"/>
<rect x="87" y="329" width="10" height="9" fill="#38598c"/>
<rect x="97" y="329" width="10" height="9" fill="#414487"/>
<rect x="107" y="329" width="9" height="9" fill="#424086"/>
<rect x="116" y="329" width="20" height="9" fill="#482071"/>
<rect x="136" y="329" width="10" height="9" fill="#48186a"/>
<rect x="146" y="329" width="10" height="9" fill="#46085c"/>
<rect x="156" y="329" width="20" height="9" fill="#450559"/>
<rect x="176" y="329" width="20" height="9" fill="#46085c"/>
<rect x="196" y="329" width="30" height="9" fill="#440256"/>
<rect x="226" y="329" width="9" height="9" fill="#46085c"/>
<rect x="235" y="329" width="10" height="9" fill="#450559"/>
<rect x="245" y="329" width="10" height="9" fill="#460a5d"/>
<rect x="255" y="329" width="10" height="9" fill="#440256"/>
<rect x="265" y="329" width="10" height="9" fill="#46085c"/>
<rect x="275" y="329" width="10" height="9" fill="#460b5e"/>
<rect x="285" y="329" width="10" height="9" fill="#471164"/>
<rect x="295" y="329" width="20" height="9" fill="#482374"/>
<rect x="315" y="329" width="10" height="9" fill="#472a7a"/>
<rect x="325" y="329" width="10" height="9" fill="#453882"/>
<rect x="335" y="329" width="10" height="9" fill="#3d4e8a"/>
<rect x="345" y="329" width="10" height="9" fill="#2f6c8e"/>
<rect x="355" y="329" width="9" height="9" fill="#3f4788"/>
<rect x="364" y="329" width="10" height="9" fill="#48186a"/>
<rect x="374" y="329" width="20" height="9" fill="#482071"/>
<rect x="394" y="329" width="10" height="9" fill="#481c6e"/>
<rect x="404" y="329" width="10" height="9" fill="#482878"/>
<rect x="414" y="329" width="10" height="9" fill="#471365"/>
<rect x="424" y="329" width="10" height="9" fill="#460a5d"/>
<rect x="434" y="329" width="119" height="9" fill="#440256"/>
<rect x="57" y="320" width="10" height="9" fill="#440154"/>
<rect x="67" y="320" width="10" height="9" fill="#450559"/>
<rect x="77" y="320" width="10" height="9" fill="#471365"/>
<rect x="87" y="320" width="10" height="9" fill="#414487"/>
<rect x="97" y="320" width="10" height="9" fill="#463480"/>
<rect x="107" y="320" width="9" height="9" fill="#482878"/>
<rect x="116" y="320" width="10" height="9" fill="#482071"/>
<rect x="126" y="320" width="20" height="9" fill="#48186a"/>
<rect x="146" y="320" width="20" height="9" fill="#440256"/>
<rect x="166" y="320" width="10" height="9" fill="#440154"/>
<rect x="176" y="320" width="30" height="9" fill="#440256"/>
<rect x="206" y="320" width="10" height="9" fill="#450559"/>
<rect x="216" y="320" width="19" height="9" fill="#440256"/>
<rect x="235" y="320" width="10" height="9" fill="#450559"/>
<rect x="245" y="320" width="20" height="9" fill="#440256"/>
<rect x="265" y="320" width="10" height="9" fill="#450559"/>
<rect x="275" y="320" width="10" height="9" fill="#460a5d"/>
<rect x="285" y="320" width="10" height="9" fill="#470e61"/>
<rect x="295" y="320" width="20" height="9" fill="#481c6e"/>
<rect x="315" y="320" width="10" height="9" fill="#482878"/>
<rect x="325" y="320" width="10" height="9" fill="#46307e"/>
<rect x="335" y="320" width="10" height="9" fill="#2e6f8e"/>
<rect x="345" y="320" width="10" height="9" fill="#2c728e"/>
<rect x="355" y="320" width="9" height="9" fill="#443b84"/>
<rect x="364" y="320" width="10" height="9" fill="#470e61"/>
<rect x="374" y="320" width="40" height="9" fill="#48186a"/>
<rect x="414" y="320" width="10" height="9" fill="#460a5d"/>
<rect x="424" y="320" width="20" height="9" fill="#440256"/>
<rect x="444" y="320" width="20" height="9" fill="#440154"/>
<rect x="464" y="320" width="89" height="9" fill="#440256"/>
<rect x="57" y="310" width="20" height="10" fill="#440154"/>
<rect x="77" y="310" width="10" height="10" fill="#460a5d"/>
<rect x="87" y="310" width="10" height="10" fill="#3f4788"/>
<rect x="97" y="310" width="10" height="10" fill="#482878"/>
<rect x="107" y="310" width="9" height="10" fill="#481c6e"/>
<rect x="116" y="310" width="10" height="10" fill="#48186a"/>
<rect x="126" y="310" width="10" height="10" fill="#481668"/>
<rect x="136" y="310" width="10" height="10" fill="#460b5e"/>
<rect x="146" y="310" width="10" height="10" fill="#450559"/>
<rect x="156" y="310" width="10" height="10" fill="#440256"/>
<rect x="166" y="310" width="20" height="10" fill="#450559"/>
<rect x="186" y="310" width="49" height="10" fill="#440256"/>
<rect x="235" y="310" width="10" height="10" fill="#450457"/>
<rect x="245" y="310" width="30" height="10" fill="#440256"/>
<rect x="275" y="310" width="10" height="10" fill="#460a5d"/>
<rect x="285" y="310" width="10" height="10" fill="#460b5e"/>
<rect x="295" y="310" width="10" height="10" fill="#471365"/>
<rect x="305" y="310" width="20" height="10" fill="#48186a"/>
<rect x="325" y="310" width="10" height="10" fill="#482475"/>
<rect x="335" y="310" width="10" height="10" fill="#2c728e"/>
<rect x="345" y="310" width="10" height="10" fill="#2f6c8e"/>
<rect x="355" y="310" width="9" height="10" fill="#463480"/>
<rect x="364" y="310" width="20" height="10" fill="#470e61"/>
<rect x="384" y="310" width="10" height="10" fill="#48186a"/>
<rect x="394" y="310" width="20" height="10" fill="#471365"/>
<rect x="414" y="310" width="10" height="10" fill="#450559"/>
<rect x="424" y="310" width="10" height="10" fill="#460a5d"/>
<rect x="434" y="310" width="10" height="10" fill="#440256"/>
<rect x="444" y="310" width="20" height="10" fill="#440154"/>
<rect x="464" y="310" width="89" height="10" fill="#440256"/>
<rect x="57" y="301" width="20" height="9" fill="#440154"/>
<rect x="77" y="301" width="10" height="9" fill="#460a5d"/>
<rect x="87" y="301" width="10" height="9" fill="#463480"/>
<rect x="97" y="301" width="10" height="9" fill="#482071"/>
<rect x="107" y="301" width="9" height="9" fill="#481c6e"/>
<rect x="116" y="301" width="10" height="9" fill="#48186a"/>
<rect x="126" y="301" width="10" height="9" fill="#481668"/>
<rect x="136" y="301" width="10" height="9" fill="#471365"/>
<rect x="146" y="301" width="10" height="9" fill="#46085c"/>
<rect x="156" y="301" width="30" height="9" fill="#440154"/>
<rect x="186" y="301" width="10" height="9" fill="#450559"/>
<rect x="196" y="301" width="30" height="9" fill="#440154"/>
<rect x="226" y="301" width="59" height="9" fill="#440256"/>
<rect x="285" y="301" width="10" height="9" fill="#460a5d"/>
<rect x="295" y="301" width="10" height="9" fill="#470e61"/>
<rect x="305" y="301" width="10" height="9" fill="#481c6e"/>
<rect x="315" y="301" width="10" height="9" fill="#482475"/>
<rect x="325" y="301" width="10" height="9" fill="#482071"/>
<rect x="335" y="301" width="10" height="9" fill="#39558c"/>
<rect x="345" y="301" width="10" height="9" fill="#2c728e"/>
<rect x="355" y="301" width="9" height="9" fill="#424086"/>
<rect x="364" y="301" width="10" height="9" fill="#470e61"/>
<rect x="374" y="301" width="10" height="9" fill="#440256"/>
<rect x="384" y="301" width="10" height="9" fill="#450559"/>
<rect x="394" y="301" width="10" height="9" fill="#460b5e"/>
<rect x="404" y="301" width="30" height="9" fill="#440256"/>
<rect x="434" y="301" width="30" height="9" fill="#440154"/>
<rect x="464" y="301" width="89" height="9" fill="#440256"/>
<rect x="57" y="292" width="20" height="9" fill="#440154"/>
<rect x="77" y="292" width="10" height="9" fill="#460a5d"/>
<rect x="87" y="292" width="10" height="9" fill="#482071"/>
<rect x="97" y="292" width="10" height="9" fill="#48186a"/>
<rect x="107" y="292" width="9" height="9" fill="#481a6c"/>
<rect x="116" y="292" width="10" height="9" fill="#48186a"/>
<rect x="126" y="292" width="20" height="9" fill="#470e61"/>
<rect x="146" y="292" width="10" height="9" fill="#460a5d"/>
<rect x="156" y="292" width="70" height="9" fill="#440154"/>
<rect x="226" y="292" width="59" height="9" fill="#440256"/>
<rect x="285" y="292" width="20" height="9" fill="#46085c"/>
<rect x="305" y="292" width="10" height="9" fill="#481c6e"/>
<rect x="315" y="292" width="10" height="9" fill="#471365"/>
<rect x="325" y="292" width="10" height="9" fill="#481c6e"/>
<rect x="335" y="292" width="10" height="9" fill="#3f4788"/>
<rect x="345" y="292" width="10" height="9" fill="#2f6c8e"/>
<rect x="355" y="292" width="9" height="9" fill="#463480"/>
<rect x="364" y="292" width="10" height="9" fill="#470e61"/>
<rect x="374" y="292" width="20" height="9" fill="#450559"/>
<rect x="394" y="292" width="20" height="9" fill="#470e61"/>
<rect x="414" y="292" width="10" height="9" fill="#450559"/>
<rect x="424" y="292" width="30" height="9" fill="#440256"/>
<rect x="454" y="292" width="10" height="9" fill="#440154"/>
<rect x="464" y="292" width="89" height="9" fill="#440256"/>
<rect x="57" y="283" width="20" height="9" fill="#440154"/>
<rect x="77" y="283" width="10" height="9" fill="#46085c"/>
<rect x="87" y="283" width="20" height="9" fill="#482071"/>
<rect x="107" y="283" width="9" height="9" fill="#460b5e"/>
<rect x="116" y="283" width="10" height="9" fill="#46085c"/>
<rect x="126" y="283" width="20" height="9" fill="#460a5d"/>
<rect x="146" y="283" width="10" height="9" fill="#46085c"/>
<rect x="156" y="283" width="30" height="9" fill="#450559"/>
<rect x="186" y="283" width="69" height="9" fill="#440154"/>
<rect x="255" y="283" width="30" height="9" fill="#440256"/>
<rect x="285" y="283" width="10" height="9" fill="#450559"/>
<rect x="295" y="283" width="10" height="9" fill="#46085c"/>
<rect x="305" y="283" width="10" height="9" fill="#460b5e"/>
<rect x="315" y="283" width="10" height="9" fill="#46085c"/>
<rect x="325" y="283" width="10" height="9" fill="#48186a"/>
<rect x="335" y="283" width="10" height="9" fill="#3f4788"/>
<rect x="345" y="283" width="10" height="9" fill="#33638d"/>
<rect x="355" y="283" width="9" height="9" fill="#482475"/>
<rect x="364" y="283" width="20" height="9" fill="#450559"/>
<rect x="384" y="283" width="20" height="9" fill="#460a5d"/>
<rect x="404" y="283" width="10" height="9" fill="#450559"/>
<rect x="414" y="283" width="10" height="9" fill="#440154"/>
<rect x="424" y="283" width="30" height="9" fill="#440256"/>
<rect x="454" y="283" width="99" height="9" fill="#440154"/>
<rect x="57" y="273" width="20" height="10" fill="#440154"/>
<rect x="77" y="273" width="10" height="10" fill="#440256"/>
<rect x="87" y="273" width="10" height="10" fill="#481668"/>
<rect x="97" y="273" width="10" height="10" fill="#460b5e"/>
<rect x="107" y="273" width="39" height="10" fill="#46085c"/>
<rect x="146" y="273" width="10" height="10" fill="#450559"/>
<rect x="156" y="273" width="129" height="10" fill="#440154"/>
<rect x="285" y="273" width="10" height="10" fill="#440256"/>
<rect x="295" y="273" width="10" height="10" fill="#450559"/>
<rect x="305" y="273" width="10" height="10" fill="#46085c"/>
<rect x="315" y="273" width="10" height="10" fill="#440154"/>
<rect x="325" y="273" width="10" height="10" fill="#460a5d"/>
<rect x="335" y="273" width="10" height="10" fill="#443b84"/>
<rect x="345" y="273" width="10" height="10" fill="#2c728e"/>
<rect x="355" y="273" width="9" height="10" fill="#481c6e"/>
<rect x="364" y="273" width="10" height="10" fill="#450559"/>
<rect x="374" y="273" width="10" height="10" fill="#440256"/>
<rect x="384" y="273" width="10" height="10" fill="#460b5e"/>
<rect x="394" y="273" width="10" height="10" fill="#450457"/>
<rect x="404" y="273" width="10" height="10" fill="#440256"/>
<rect x="414" y="273" width="139" height="10" fill="#440154"/>
<rect x="57" y="264" width="30" height="9" fill="#440154"/>
<rect x="87" y="264" width="10" height="9" fill="#470e61"/>
<rect x="97" y="264" width="10" height="9" fill="#460b5e"/>
<rect x="107" y="264" width="9" height="9" fill="#460a5d"/>
<rect x="116" y="264" width="10" height="9" fill="#440256"/>
<rect x="126" y="264" width="10" height="9" fill="#470e61"/>
<rect x="136" y="264" width="10" height="9" fill="#450559"/>
<rect x="146" y="264" width="10" height="9" fill="#440256"/>
<rect x="156" y="264" width="139" height="9" fill="#440154"/>
<rect x="295" y="264" width="10" height="9" fill="#440256"/>
<rect x="305" y="264" width="10" height="9" fill="#450559"/>
<rect x="315" y="264" width="10" height="9" fill="#440154"/>
<rect x="325" y="264" width="10" height="9" fill="#450559"/>
<rect x="335" y="264" width="10" height="9" fill="#463480"/>
<rect x="345" y="264" width="10" height="9" fill="#33638d"/>
<rect x="355" y="264" width="9" height="9" fill="#471365"/>
<rect x="364" y="264" width="10" height="9" fill="#450559"/>
<rect x="374" y="264" width="30" height="9" fill="#440154"/>
<rect x="404" y="264" width="10" height="9" fill="#46085c"/>
<rect x="414" y="264" width="139" height="9" fill="#440154"/>
<rect x="57" y="255" width="30" height="9" fill="#440154"/>
<rect x="87" y="255" width="10" height="9" fill="#460b5e"/>
<rect x="97" y="255" width="10" height="9" fill="#460a5d"/>
<rect x="107" y="255" width="19" height="9" fill="#450559"/>
<rect x="126" y="255" width="10" height="9" fill="#440256"/>
<rect x="136" y="255" width="10" height="9" fill="#450457"/>
<rect x="146" y="255" width="10" height="9" fill="#440256"/>
<rect x="156" y="255" width="139" height="9" fill="#440154"/>
<rect x="295" y="255" width="20" height="9" fill="#440256"/>
<rect x="315" y="255" width="10" height="9" fill="#440154"/>
<rect x="325" y="255" width="10" height="9" fill="#450559"/>
<rect x="335" y="255" width="10" height="9" fill="#463480"/>
<rect x="345" y="255" width="10" height="9" fill="#365c8d"/>
<rect x="355" y="255" width="9" height="9" fill="#471164"/>
<rect x="364" y="255" width="10" height="9" fill="#450559"/>
<rect x="374" y="255" width="179" height="9" fill="#440154"/>
<rect x="57" y="246" width="30" height="9" fill="#440154"/>
<rect x="87" y="246" width="10" height="9" fill="#46085c"/>
<rect x="97" y="246" width="10" height="9" fill="#460a5d"/>
<rect x="107" y="246" width="9" height="9" fill="#440154"/>
<rect x="116" y="246" width="20" height="9" fill="#450559"/>
<rect x="136" y="246" width="10" height="9" fill="#440256"/>
<rect x="146" y="246" width="149" height="9" fill="#440154"/>
<rect x="295" y="246" width="10" height="9" fill="#440256"/>
<rect x="305" y="246" width="10" height="9" fill="#450559"/>
<rect x="315" y="246" width="10" height="9" fill="#440154"/>
<rect x="325" y="246" width="10" height="9" fill="#450559"/>
<rect x="335" y="246" width="10" height="9" fill="#482878"/>
<rect x="345" y="246" width="10" height="9" fill="#3f4788"/>
<rect x="355" y="246" width="9" height="9" fill="#470e61"/>
<rect x="364" y="246" width="30" height="9" fill="#440154"/>
<rect x="394" y="246" width="10" height="9" fill="#450559"/>
<rect x="404" y="246" width="149" height="9" fill="#440154"/>
<rect x="57" y="236" width="30" height="10" fill="#440154"/>
<rect x="87" y="236" width="20" height="10" fill="#450559"/>
<rect x="107" y="236" width="29" height="10" fill="#440154"/>
<rect x="136" y="236" width="10" height="10" fill="#440256"/>
<rect x="146" y="236" width="149" height="10" fill="#440154"/>
<rect x="295" y="236" width="20" height="10" fill="#440256"/>
<rect x="315" y="236" width="10" height="10" fill="#440154"/>
<rect x="325" y="236" width="10" height="10" fill="#450559"/>
<rect x="335" y="236" width="10" height="10" fill="#482475"/>
<rect x="345" y="236" width="10" height="10" fill="#3f4788"/>
<rect x="355" y="236" width="9" height="10" fill="#460b5e"/>
<rect x="364" y="236" width="189" height="10" fill="#440154"/>
<rect x="57" y="227" width="30" height="9" fill="#440154"/>
<rect x="87" y="227" width="10" height="9" fill="#440256"/>
<rect x="97" y="227" width="10" height="9" fill="#450559"/>
<rect x="107" y="227" width="9" height="9" fill="#440256"/>
<rect x="116" y="227" width="20" height="9" fill="#440154"/>
<rect x="136" y="227" width="10" height="9" fill="#440256"/>
<rect x="146" y="227" width="149" height="9" fill="#440154"/>
<rect x="295" y="227" width="10" height="9" fill="#440256"/>
<rect x="305" y="227" width="10" height="9" fill="#440154"/>
<rect x="315" y="227" width="20" height="9" fill="#440256"/>
<rect x="335" y="227" width="10" height="9" fill="#482475"/>
<rect x="345" y="227" width="10" height="9" fill="#46307e"/>
<rect x="355" y="227" width="9" height="9" fill="#470e61"/>
<rect x="364" y="227" width="189" height="9" fill="#440154"/>
<rect x="57" y="218" width="30" height="9" fill="#440154"/>
<rect x="87" y="218" width="10" height="9" fill="#46085c"/>
<rect x="97" y="218" width="19" height="9" fill="#440256"/>
<rect x="116" y="218" width="179" height="9" fill="#440154"/>
<rect x="295" y="218" width="20" height="9" fill="#440256"/>
<rect x="315" y="218" width="10" height="9" fill="#440154"/>
<rect x="325" y="218" width="10" height="9" fill="#440256"/>
<rect x="335" y="218" width="10" height="9" fill="#482071"/>
<rect x="345" y="218" width="10" height="9" fill="#46307e"/>
<rect x="355" y="218" width="9" height="9" fill="#460a5d"/>
<rect x="364" y="218" width="189" height="9" fill="#440154"/>
<rect x="57" y="209" width="50" height="9" fill="#440154"/>
<rect x="107" y="209" width="9" height="9" fill="#440256"/>
<rect x="116" y="209" width="179" height="9" fill="#440154"/>
<rect x="295" y="209" width="20" height="9" fill="#440256"/>
<rect x="315" y="209" width="10" height="9" fill="#440154"/>
<rect x="325" y="209" width="10" height="9" fill="#440256"/>
<rect x="335" y="209" width="10" height="9" fill="#481c6e"/>
<rect x="345" y="209" width="10" height="9" fill="#472d7b"/>
<rect x="355" y="209" width="9" height="9" fill="#460a5d"/>
<rect x="364" y="209" width="189" height="9" fill="#440154"/>
<rect x="57" y="200" width="238" height="9" fill="#440154"/>
<rect x="295" y="200" width="40" height="9" fill="#440256"/>
<rect x="335" y="200" width="10" height="9" fill="#48186a"/>
<rect x="345" y="200" width="10" height="9" fill="#472d7b"/>
<rect x="355" y="200" width="9" height="9" fill="#460a5d"/>
<rect x="364" y="200" width="10" height="9" fill="#440256"/>
<rect x="374" y="200" width="179" height="9" fill="#440154"/>
<rect x="57" y="190" width="278" height="10" fill="#440154"/>
<rect x="335" y="190" width="10" height="10" fill="#46085c"/>
<rect x="345" y="190" width="10" height="10" fill="#482475"/>
<rect x="355" y="190" width="9" height="10" fill="#440256"/>
<rect x="364" y="190" width="189" height="10" fill="#440154"/>
<rect x="57" y="181" width="278" height="9" fill="#440154"/>
<rect x="335" y="181" width="10" height="9" fill="#460a5d"/>
<rect x="345" y="181" width="10" height="9" fill="#471164"/>
<rect x="355" y="181" width="9" height="9" fill="#450559"/>
<rect x="364" y="181" width="189" height="9" fill="#440154"/>
<rect x="57" y="172" width="278" height="9" fill="#440154"/>
<rect x="335" y="172" width="10" height="9" fill="#46085c"/>
<rect x="345" y="172" width="10" height="9" fill="#470e61"/>
<rect x="355" y="172" width="198" height="9" fill="#440154"/>
<rect x="57" y="163" width="278" height="9" fill="#440154"/>
<rect x="335" y="163" width="10" height="9" fill="#46085c"/>
<rect x="345" y="163" width="10" height="9" fill="#470e61"/>
<rect x="355" y="163" width="198" height="9" fill="#440154"/>
<rect x="57" y="153" width="278" height="10" fill="#440154"/>
<rect x="335" y="153" width="10" height="10" fill="#450559"/>
<rect x="345" y="153" width="10" height="10" fill="#481668"/>
<rect x="355" y="153" width="198" height="10" fill="#440154"/>
<rect x="57" y="144" width="278" height="9" fill="#440154"/>
<rect x="335" y="144" width="10" height="9" fill="#450559"/>
<rect x="345" y="144" width="10" height="9" fill="#460b5e"/>
<rect x="355" y="144" width="198" height="9" fill="#440154"/>
<rect x="57" y="135" width="278" height="9" fill="#440154"/>
<rect x="335" y="135" width="10" height="9" fill="#46085c"/>
<rect x="345" y="135" width="10" height="9" fill="#450559"/>
<rect x="355" y="135" width="9" height="9" fill="#440256"/>
<rect x="364" y="135" width="189" height="9" fill="#440154"/>
<rect x="57" y="126" width="278" height="9" fill="#440154"/>
<rect x="335" y="126" width="10" height="9" fill="#46085c"/>
<rect x="345" y="126" width="10" height="9" fill="#440256"/>
<rect x="355" y="126" width="198" height="9" fill="#440154"/>
<rect x="57" y="116" width="288" height="10" fill="#440154"/>
<rect x="345" y="116" width="10" height="10" fill="#450457"/>
<rect x="355" y="116" width="198" height="10" fill="#440154"/>
<rect x="57" y="107" width="288" height="9" fill="#440154"/>
<rect x="345" y="107" width="10" height="9" fill="#450457"/>
<rect x="355" y="107" width="198" height="9" fill="#440154"/>
<rect x="57" y="98" width="288" height="9" fill="#440154"/>
<rect x="345" y="98" width="10" height="9" fill="#440256"/>
<rect x="355" y="98" width="198" height="9" fill="#440154"/>
<rect x="57" y="89" width="278" height="9" fill="#440154"/>
<rect x="335" y="89" width="10" height="9" fill="#450559"/>
<rect x="345" y="89" width="10" height="9" fill="#440256"/>
<rect x="355" y="89" width="198" height="9" fill="#440154"/>
<rect x="57" y="79" width="288" height="10" fill="#440154"/>
<rect x="345" y="79" width="10" height="10" fill="#450457"/>
<rect x="355" y="79" width="198" height="10" fill="#440154"/>
<rect x="57" y="70" width="278" height="9" fill="#440154"/>
<rect x="335" y="70" width="10" height="9" fill="#440256"/>
<rect x="345" y="70" width="208" height="9" fill="#440154"/>
<rect x="57" y="61" width="496" height="9" fill="#440154"/>
<rect x="57" y="52" width="496" height="9" fill="#440154"/>
<rect x="57" y="42" width="496" height="10" fill="#440154"/>
<rect x="57" y="33" width="496" height="9" fill="#440154"/>
<rect x="57" y="24" width="496" height="9" fill="#440154"/>
<rect x="57" y="15" width="496" height="9" fill="#440154"/>
<rect x="585" y="16" width="22" height="1" fill="#fde725"/>
<rect x="585" y="17" width="22" height="1" fill="#fbe723"/>
<rect x="585" y="18" width="22" height="2" fill="#f8e621"/>
<rect x="585" y="20" width="22" height="2" fill="#f6e620"/>
<rect x="585" y="22" width="22" height="2" fill="#f4e61e"/>
<rect x="585" y="24" width="22" height="2" fill="#f1e51d"/>
<rect x="585" y="26" width="22" height="1" fill="#efe51c"/>
<rect x="585" y="27" width="22" height="2" fill="#ece51b"/>
<rect x="585" y="29" width="22" height="2" fill="#eae51a"/>
<rect x="585" y="31" width="22" height="2" fill="#e7e419"/>
<rect x="585" y="33" width="22" height="2" fill="#e5e419"/>
<rect x="585" y="35" width="22" height="1" fill="#e2e418"/>
<rect x="585" y="36" width="22" height="2" fill="#dfe318"/>
<rect x="585" y="38" width="22" height="2" fill="#dde318"/>
<rect x="585" y="40" width="22" height="2" fill="#dae319"/>
<rect x="585" y="42" width="22" height="2" fill="#d8e219"/>
<rect x="585" y="44" width="22" height="1" fill="#d5e21a"/>
<rect x="585" y="45" width="22" height="2" fill="#d2e21b"/>
<rect x="585" y="47" width="22" height="2" fill="#d0e11c"/>
<rect x="585" y="49" width="22" height="2" fill="#cde11d"/>
<rect x="585" y="51" width="22" height="2" fill="#cae11f"/>
<rect x="585" y="53" width="22" height="1" fill="#c8e020"/>
<rect x="585" y="54" width="22" height="2" fill="#c5e021"/>
<rect x="585" y="56" width="22" height="2" fill="#c2df23"/>
<rect x="585" y="58" width="22" height="2" fill="#c0df25"/>
<rect x="585" y="60" width="22" height="2" fill="#bddf26"/>
<rect x="585" y="62" width="22" height="1" fill="#bade28"/>
<rect x="585" y="63" width="22" height="2" fill="#b8de29"/>
<rect x="585" y="65" width="22" height="2" fill="#b5de2b"/>
<rect x="585" y="67" width="22" height="2" fill="#b2dd2d"/>
<rect x="585" y="69" width="22" height="2" fill="#b0dd2f"/>
<rect x="585" y="71" width="22" height="1" fill="#addc30"/>
<rect x="585" y="72" width="22" height="2" fill="#aadc32"/>
<rect x="585" y="74" width="22" height="2" fill="#a8db34"/>
<rect x="585" y="76" width="22" height="2" fill="#a5db36"/>
<rect x="585" y="78" width="22" height="2" fill="#a2da37"/>
<rect x="585" y="80" width="22" height="1" fill="#a0da39"/>
<rect x="585" y="81" width="22" height="2" fill="#9dd93b"/>
<rect x="585" y="83" width="22" height="2" fill="#9bd93c"/>
<rect x="585" y="85" width="22" height="2" fill="#98d83e"/>
<rect x="585" y="87" width="22" height="2" fill="#95d840"/>
<rect x="585" y="89" width="22" height="2" fill="#93d741"/>
<rect x="585" y="91" width="22" height="1" fill="#90d743"/>
<rect x="585" y="92" width="22" height="2" fill="#8ed645"/>
<rect x="585" y="94" width="22" height="2" fill="#8bd646"/>
<rect x="585" y="96" width="22" height="2" fill="#89d548"/>
<rect x="585" y="98" width="22" height="2" fill="#86d549"/>
<rect x="585" y="100" width="22" height="1" fill="#84d44b"/>
<rect x="585" y="101" width="22" height="2" fill="#81d34d"/>
<rect x="585" y="103" width="22" height="2" fill="#7fd34e"/>
<rect x="585" y="105" width="22" height="2" fill="#7cd250"/>
<rect x="585" y="107" width="22" height="2" fill="#7ad151"/>
<rect x="585" y="109" width="22" height="1" fill="#77d153"/>
<rect x="585" y="110" width="22" height="2" fill="#75d054"/>
<rect x="585" y="112" width="22" height="2" fill="#73d056"/>
<rect x="585" y="114" width="22" height="2" fill="#70cf57"/>
<rect x="585" y="116" width="22" height="2" fill="#6ece58"/>
<rect x="585" y="118" width="22" height="1" fill="#6ccd5a"/>
<rect x="585" y="119" width="22" height="2" fill="#69cd5b"/>
<rect x="585" y="121" width="22" height="2" fill="#67cc5c"/>
<rect x="585" y="123" width="22" height="2" fill="#65cb5e"/>
<rect x="585" y="125" width="22" height="2" fill="#63cb5f"/>
<rect x="585" y="127" width="22" height="1" fill="#60ca60"/>
<rect x="585" y="128" width="22" height="2" fill="#5ec962"/>
<rect x="585" y="130" width="22" height="2" fill="#5cc863"/>
<rect x="585" y="132" width="22" height="2" fill="#5ac864"/>
<rect x="585" y="134" width="22" height="2" fill="#58c765"/>
<rect x="585" y="136" width="22" height="1" fill="#56c667"/>
<rect x="585" y="137" width="22" height="2" fill="#54c568"/>
<rect x="585" y="139" width="22" height="2" fill="#52c569"/>
<rect x="585" y="141" width="22" height="2" fill="#50c46a"/>
<rect x="585" y="143" width="22" height="2" fill="#4ec36b"/>
<rect x="585" y="145" width="22" height="1" fill="#4cc26c"/>
<rect x="585" y="146" width="22" height="2" fill="#4ac16d"/>
<rect x="585" y="148" width="22" height="2" fill="#48c16e"/>
<rect x="585" y="150" width="22" height="2" fill="#46c06f"/>
<rect x="585" y="152" width="22" height="2" fill="#44bf70"/>
<rect x="585" y="154" width="22" height="1" fill="#42be71"/>
<rect x="585" y="155" width="22" height="2" fill="#40bd72"/>
<rect x="585" y="157" width="22" height="2" fill="#3fbc73"/>
<rect x="585" y="159" width="22" height="2" fill="#3dbc74"/>
<rect x="585" y="161" width="22" height="2" fill="#3bbb75"/>
<rect x="585" y="163" width="22" height="2" fill="#3aba76"/>
<rect x="585" y="165" width="22" height="1" fill="#38b977"/>
<rect x="585" y="166" width="22" height="2" fill="#37b878"/>
<rect x="585" y="168" width="22" height="2" fill="#35b779"/>
<rect x="585" y="170" width="22" height="2" fill="#34b679"/>
<rect x="585" y="172" width="22" height="2" fill="#32b67a"/>
<rect x="585" y="174" width="22" height="1" fill="#31b57b"/>
<rect x="585" y="175" width="22" height="2" fill="#2fb47c"/>
<rect x="585" y="177" width="22" height="2" fill="#2eb37c"/>
<rect x="585" y="179" width="22" height="2" fill="#2db27d"/>
<rect x="585" y="181" width="22" height="2" fill="#2cb17e"/>
<rect x="585" y="183" width="22" height="1" fill="#2ab07f"/>
<rect x="585" y="184" width="22" height="2" fill="#29af7f"/>
<rect x="585" y="186" width="22" height="2" fill="#28ae80"/>
<rect x="585" y="188" width="22" height="2" fill="#27ad81"/>
<rect x="585" y="190" width="22" height="2" fill="#26ad81"/>
<rect x="585" y="192" width="22" height="1" fill="#25ac82"/>
<rect x="585" y="193" width="22" height="2" fill="#25ab82"/>
<rect x="585" y="195" width="22" height="2" fill="#24aa83"/>
<rect x="585" y="197" width="22" height="2" fill="#23a983"/>
<rect x="585" y="199" width="22" height="2" fill="#22a884"/>
<rect x="585" y="201" width="22" height="1" fill="#22a785"/>
<rect x="585" y="202" width="22" height="2" fill="#21a685"/>
<rect x="585" y="204" width="22" height="2" fill="#21a585"/>
<rect x="585" y="206" width="22" height="2" fill="#20a486"/>
<rect x="585" y="208" width="22" height="2" fill="#20a386"/>
<rect x="585" y="210" width="22" height="1" fill="#1fa287"/>
<rect x="585" y="211" width="22" height="2" fill="#1fa187"/>
<rect x="585" y="213" width="22" height="2" fill="#1fa188"/>
<rect x="585" y="215" width="22" height="2" fill="#1fa088"/>
<rect x="585" y="217" width="22" height="2" fill="#1f9f88"/>
<rect x="585" y="219" width="22" height="1" fill="#1f9e89"/>
<rect x="585" y="220" width="22" height="2" fill="#1e9d89"/>
<rect x="585" y="222" width="22" height="2" fill="#1e9c89"/>
<rect x="585" y="224" width="22" height="2" fill="#1e9b8a"/>
<rect x="585" y="226" width="22" height="2" fill="#1f9a8a"/>
<rect x="585" y="228" width="22" height="1" fill="#1f998a"/>
<rect x="585" y="229" width="22" height="2" fill="#1f988b"/>
<rect x="585" y="231" width="22" height="2" fill="#1f978b"/>
<rect x="585" y="233" width="22" height="2" fill="#1f968b"/>
<rect x="585" y="235" width="22" height="2" fill="#1f958b"/>
<rect x="585" y="237" width="22" height="2" fill="#1f948c"/>
<rect x="585" y="239" width="22" height="1" fill="#20938c"/>
<rect x="585" y="240" width="22" height="4" fill="#20928c"/>
<rect x="585" y="244" width="22" height="2" fill="#21918c"/>
<rect x="585" y="246" width="22" height="2" fill="#21908d"/>
<rect x="585" y="248" width="22" height="1" fill="#218f8d"/>
<rect x="585" y="249" width="22" height="2" fill="#218e8d"/>
<rect x="585" y="251" width="22" height="2" fill="#228d8d"/>
<rect x="585" y="253" width="22" height="2" fill="#228c8d"/>
<rect x="585" y="255" width="22" height="2" fill="#228b8d"/>
<rect x="585" y="257" width="22" height="1" fill="#238a8d"/>
<rect x="585" y="258" width="22" height="2" fill="#23898e"/>
<rect x="585" y="260" width="22" height="2" fill="#23888e"/>
<rect x="585" y="262" width="22" height="2" fill="#24878e"/>
<rect x="585" y="264" width="22" height="2" fill="#24868e"/>
<rect x="585" y="266" width="22" height="1" fill="#25858e"/>
<rect x="585" y="267" width="22" height="2" fill="#25848e"/>
<rect x="585" y="269" width="22" height="2" fill="#25838e"/>
<rect x="585" y="271" width="22" height="4" fill="#26828e"/>
<rect x="585" y="275" width="22" height="1" fill="#26818e"/>
<rect x="585" y="276" width="22" height="2" fill="#27808e"/>
<rect x="585" y="278" width="22" height="2" fill="#277f8e"/>
<rect x="585" y="280" width="22" height="2" fill="#277e8e"/>
<rect x="585" y="282" width="22" height="2" fill="#287d8e"/>
<rect x="585" y="284" width="22" height="1" fill="#287c8e"/>
<rect x="585" y="285" width="22" height="2" fill="#297b8e"/>
<rect x="585" y="287" width="22" height="2" fill="#297a8e"/>
<rect x="585" y="289" width="22" height="2" fill="#29798e"/>
<rect x="585" y="291" width="22" height="2" fill="#2a788e"/>
<rect x="585" y="293" width="22" height="1" fill="#2a778e"/>
<rect x="585" y="294" width="22" height="2" fill="#2a768e"/>
<rect x="585" y="296" width="22" height="2" fill="#2b758e"/>
<rect x="585" y="298" width="22" height="2" fill="#2b748e"/>
<rect x="585" y="300" width="22" height="2" fill="#2c738e"/>
<rect x="585" y="302" width="22" height="1" fill="#2c728e"/>
<rect x="585" y="303" width="22" height="2" fill="#2c718e"/>
<rect x="585" y="305" width="22" height="2" fill="#2d718e"/>
<rect x="585" y="307" width="22" height="2" fill="#2d708e"/>
<rect x="585" y="309" width="22" height="2" fill="#2e6f8e"/>
<rect x="585" y="311" width="22" height="1" fill="#2e6e8e"/>
<rect x="585" y="312" width="22" height="2" fill="#2e6d8e"/>
<rect x="585" y="314" width="22" height="2" fill="#2f6c8e"/>
<rect x="585" y="316" width="22" height="2" fill="#2f6b8e"/>
<rect x="585" y="318" width="22" height="2" fill="#306a8e"/>
<rect x="585" y="320" width="22" height="2" fill="#30698e"/>
<rect x="585" y="322" width="22" height="1" fill="#31688e"/>
<rect x="585" y="323" width="22" height="2" fill="#31678e"/>
<rect x="585" y="325" width="22" height="2" fill="#31668e"/>
<rect x="585" y="327" width="22" height="2" fill="#32658e"/>
<rect x="585" y="329" width="22" height="2" fill="#32648e"/>
<rect x="585" y="331" width="22" height="1" fill="#33638d"/>
<rect x="585" y="332" width="22" height="2" fill="#33628d"/>
<rect x="585" y="334" width="22" height="2" fill="#34618d"/>
<rect x="585" y="336" width="22" height="2" fill="#34608d"/>
<rect x="585" y="338" width="22" height="2" fill="#355f8d"/>
<rect x="585" y="340" width="22" height="1" fill="#355e8d"/>
<rect x="585" y="341" width="22" height="2" fill="#365d8d"/>
<rect x="585" y="343" width="22" height="2" fill="#365c8d"/>
<rect x="585" y="345" width="22" height="2" fill="#375b8d"/>
<rect x="585" y="347" width="22" height="2" fill="#375a8c"/>
<rect x="585" y="349" width="22" height="1" fill="#38598c"/>
<rect x="585" y="350" width="22" height="2" fill="#38588c"/>
<rect x="585" y="352" width="22" height="2" fill="#39568c"/>
<rect x="585" y="354" width="22" height="2" fill="#39558c"/>
<rect x="585" y="356" width="22" height="2" fill="#3a548c"/>
<rect x="585" y="358" width="22" height="1" fill="#3a538b"/>
<rect x="585" y="359" width="22" height="2" fill="#3b528b"/>
<rect x="585" y="361" width="22" height="2" fill="#3b518b"/>
<rect x="585" y="363" width="22" height="2" fill="#3c508b"/>
<rect x="585" y="365" width="22" height="2" fill="#3c4f8a"/>
<rect x="585" y="367" width="22" height="1" fill="#3d4e8a"/>
<rect x="585" y="368" width="22" height="2" fill="#3d4d8a"/>
<rect x="585" y="370" width="22" height="2" fill="#3e4c8a"/>
<rect x="585" y="372" width="22" height="2" fill="#3e4a89"/>
<rect x="585" y="374" width="22" height="2" fill="#3e4989"/>
<rect x="585" y="376" width="22" height="1" fill="#3f4889"/>
<rect x="585" y="377" width="22" height="2" fill="#3f4788"/>
<rect x="585" y="379" width="22" height="2" fill="#404688"/>
<rect x="585" y="381" width="22" height="2" fill="#404588"/>
<rect x="585" y="383" width="22" height="2" fill="#414487"/>
<rect x="585" y="385" width="22" height="1" fill="#414287"/>
<rect x="585" y="386" width="22" height="2" fill="#424186"/>
<rect x="585" y="388" width="22" height="2" fill="#424086"/>
<rect x="585" y="390" width="22" height="2" fill="#423f85"/>
<rect x="585" y="392" width="22" height="2" fill="#433e85"/>
<rect x="585" y="394" width="22" height="2" fill="#433d84"/>
<rect x="585" y="396" width="22" height="1" fill="#443b84"/>
<rect x="585" y="397" width="22" height="2" fill="#443a83"/>
<rect x="585" y="399" width="22" height="2" fill="#443983"/>
<rect x="585" y="401" width="22" height="2" fill="#453882"/>
<rect x="585" y="403" width="22" height="2" fill="#453781"/>
<rect x="585" y="405" width="22" height="1" fill="#453581"/>
<rect x="585" y="406" width="22" height="2" fill="#463480"/>
<rect x="585" y="408" width="22" height="2" fill="#46337f"/>
<rect x="585" y="410" width="22" height="2" fill="#46327e"/>
<rect x="585" y="412" width="22" height="2" fill="#46307e"/>
<rect x="585" y="414" width="22" height="1" fill="#472f7d"/>
<rect x="585" y="415" width="22" height="2" fill="#472e7c"/>
<rect x="585" y="417" width="22" height="2" fill="#472d7b"/>
<rect x="585" y="419" width="22" height="2" fill="#472c7a"/>
<rect x="585" y="421" width="22" height="2" fill="#472a7a"/>
<rect x="585" y="423" width="22" height="1" fill="#482979"/>
<rect x="585" y="424" width="22" height="2" fill="#482878"/>
<rect x="585" y="426" width="22" height="2" fill="#482677"/>
<rect x="585" y="428" width="22" height="2" fill="#482576"/>
<rect x="585" y="430" width="22" height="2" fill="#482475"/>
<rect x="585" y="432" width="22" height="1" fill="#482374"/>
<rect x="585" y="433" width="22" height="2" fill="#482173"/>
<rect x="585" y="435" width="22" height="2" fill="#482071"/>
<rect x="585" y="437" width="22" height="2" fill="#481f70"/>
<rect x="585" y="439" width="22" height="2" fill="#481d6f"/>
<rect x="585" y="441" width="22" height="1" fill="#481c6e"/>
<rect x="585" y="442" width="22" height="2" fill="#481b6d"/>
<rect x="585" y="444" width="22" height="2" fill="#481a6c"/>
<rect x="585" y="446" width="22" height="2" fill="#48186a"/>
<rect x="585" y="448" width="22" height="2" fill="#481769"/>
<rect x="585" y="450" width="22" height="1" fill="#481668"/>
<rect x="585" y="451" width="22" height="2" fill="#481467"/>
<rect x="585" y="453" width="22" height="2" fill="#471365"/>
<rect x="585" y="455" width="22" height="2" fill="#471164"/>
<rect x="585" y="457" width="22" height="2" fill="#471063"/>
<rect x="585" y="459" width="22" height="1" fill="#470e61"/>
<rect x="585" y="460" width="22" height="2" fill="#470d60"/>
<rect x="585" y="462" width="22" height="2" fill="#460b5e"/>
<rect x="585" y="464" width="22" height="2" fill="#460a5d"/>
<rect x="585" y="466" width="22" height="2" fill="#46085c"/>
<rect x="585" y="468" width="22" height="2" fill="#46075a"/>
<rect x="585" y="470" width="22" height="1" fill="#450559"/>
<rect x="585" y="471" width="22" height="2" fill="#450457"/>
<rect x="585" y="473" width="22" height="2" fill="#440256"/>
<rect x="585" y="475" width="22" height="2" fill="#440154"/>
</g>
<g fill="#000">
<rect x="56.944" y="14.944" width="1.111" height="463.111"/>
<rect x="552.944" y="14.944" width="1.111" height="463.111"/>
<rect x="56.944" y="14.944" width="497.111" height="1.111"/>
<rect x="56.944" y="476.945" width="497.111" height="1.111"/>
<rect x="56.944" y="477.500" width="1.111" height="5.000"/>
<rect x="125.945" y="477.500" width="1.111" height="5.000"/>
<rect x="194.945" y="477.500" width="1.111" height="5.000"/>
<rect x="263.945" y="477.500" width="1.111" height="5.000"/>
<rect x="331.945" y="477.500" width="1.111" height="5.000"/>
<rect x="400.945" y="477.500" width="1.111" height="5.000"/>
<rect x="469.945" y="477.500" width="1.111" height="5.000"/>
<rect x="538.944" y="477.500" width="1.111" height="5.000"/>
<rect x="52.500" y="14.944" width="5.000" height="1.111"/>
<rect x="52.500" y="80.945" width="5.000" height="1.111"/>
<rect x="52.500" y="146.945" width="5.000" height="1.111"/>
<rect x="52.500" y="212.945" width="5.000" height="1.111"/>
<rect x="52.500" y="278.945" width="5.000" height="1.111"/>
<rect x="52.500" y="344.945" width="5.000" height="1.111"/>
<rect x="52.500" y="410.945" width="5.000" height="1.111"/>
<rect x="52.500" y="476.945" width="5.000" height="1.111"/>
<rect x="583.944" y="14.944" width="1.111" height="463.111"/>
<rect x="606.944" y="14.944" width="1.111" height="463.111"/>
<rect x="583.944" y="14.944" width="24.111" height="1.111"/>
<rect x="583.944" y="476.945" width="24.111" height="1.111"/>
<rect x="607.500" y="14.944" width="5.000" height="1.111"/>
<rect x="607.500" y="71.945" width="5.000" height="1.111"/>
<rect x="607.500" y="129.945" width="5.000" height="1.111"/>
<rect x="607.500" y="187.945" width="5.000" height="1.111"/>
<rect x="607.500" y="245.945" width="5.000" height="1.111"/>
<rect x="607.500" y="302.945" width="5.000" height="1.111"/>
<rect x="607.500" y="360.945" width="5.000" height="1.111"/>
<rect x="607.500" y="418.945" width="5.000" height="1.111"/>
<rect x="607.500" y="476.945" width="5.000" height="1.111"/>
</g>
<g class="t">
<text class="k" x="57.14" y="497.55" text-anchor="middle">0</text>
<text class="k" x="125.03" y="497.55" text-anchor="middle">50</text>
<text class="k" x="194.42" y="497.55" text-anchor="middle">100</text>
<text class="k" x="263.31" y="497.55" text-anchor="middle">150</text>
<text class="k" x="331.95" y="497.55" text-anchor="middle">200</text>
<text class="k" x="401.09" y="497.55" text-anchor="middle">250</text>
<text class="k" x="469.23" y="497.55" text-anchor="middle">300</text>
<text class="k" x="538.37" y="497.55" text-anchor="middle">350</text>
<text x="304.89" y="517.55" text-anchor="middle">Wind Direction [deg]</text>
<text class="k" x="47.42" y="482.55" text-anchor="end">0</text>
<text class="k" x="46.42" y="416.55" text-anchor="end">2</text>
<text class="k" x="47.42" y="350.55" text-anchor="end">4</text>
<text class="k" x="46.42" y="284.55" text-anchor="end">6</text>
<text class="k" x="46.42" y="218.55" text-anchor="end">8</text>
<text class="k" x="46.42" y="152.55" text-anchor="end">10</text>
<text class="k" x="46.42" y="86.55" text-anchor="end">12</text>
<text class="k" x="46.42" y="20.55" text-anchor="end">14</text>
<text x="19.55" y="247.78" text-anchor="middle" transform="rotate(-90 19.55 247.78)">Wind Velocity [m/s]</text>
<text class="k" x="617.97" y="482.55">0</text>
<text class="k" x="616.47" y="424.80">50</text>
<text class="k" x="616.72" y="368.05">100</text>
<text class="k" x="616.72" y="310.30">150</text>
<text class="k" x="617.47" y="251.55">200</text>
<text class="k" x="617.47" y="193.80">250</text>
<text class="k" x="616.72" y="136.05">300</text>
<text class="k" x="616.72" y="79.30">350</text>
<text class="k" x="616.72" y="20.55">400</text>
</g>
</svg></body></html>
